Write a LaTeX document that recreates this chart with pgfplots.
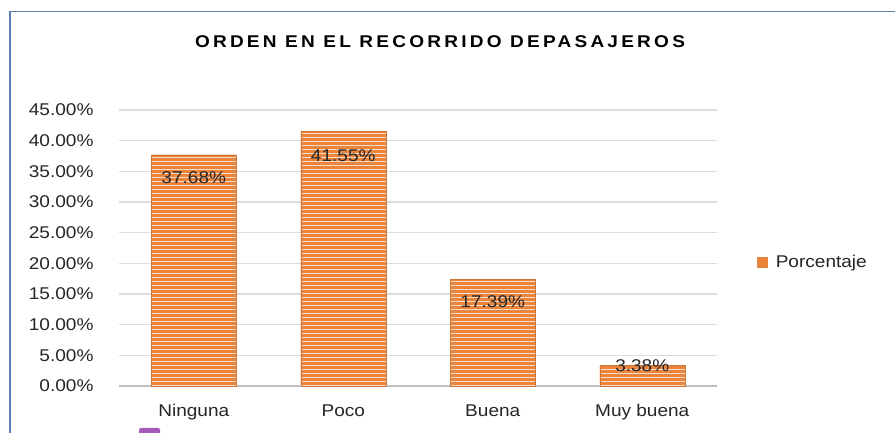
\documentclass[border=0pt]{standalone}
\usepackage{fontspec}
\setmainfont{Liberation Sans}[FakeStretch=1.12]
\usepackage{pgfplots}
\pgfplotsset{compat=1.18}
\usetikzlibrary{patterns}
\pgfdeclarepatternformonly{stripes}{\pgfpoint{-2pt}{0pt}}{\pgfpoint{6pt}{4pt}}{\pgfpoint{4pt}{4pt}}{%
  \pgfpathrectangle{\pgfpoint{-2pt}{0.2pt}}{\pgfpoint{8pt}{2.4pt}}\pgfusepath{fill}}
\definecolor{barorange}{HTML}{E8843C}
\definecolor{barlight}{HTML}{FADCC4}
\definecolor{gridgray}{HTML}{DCDCDC}
\definecolor{basegray}{HTML}{BEBEBE}
\definecolor{framecol}{HTML}{5F7DB0}
\definecolor{purp}{HTML}{A45BB8}
\begin{document}
\begin{tikzpicture}[x=1pt,y=1pt]
\useasboundingbox (0,0) rectangle (895,433);
\fill[white] (0,0) rectangle (895,433);
\draw[framecol, line width=1.5pt] (10,0) -- (10,421.5) -- (895,421.5);
\fill[purp, rounded corners=2pt] (139,-4) rectangle (160,5);
\node[font=\fontsize{17}{20}\selectfont\bfseries\addfontfeatures{LetterSpace=19}] at (440,391) {ORDEN EN EL RECORRIDO DEPASAJEROS};
\begin{axis}[
  scale only axis, width=598pt, height=276pt,
  at={(119pt,47pt)}, anchor=south west,
  font=\fontsize{17}{20}\selectfont,
  /pgf/number format/assume math mode=true,
  xmin=-0.5, xmax=3.5, ymin=0, ymax=45,
  axis line style={draw=none},
  major tick length=0pt,
  ytick={0,5,...,45},
  yticklabel={\pgfmathprintnumber[fixed,fixed zerofill,precision=2]{\tick}\%},
  yticklabel style={xshift=-22pt, text=black!85},
  xtick={0,1,2,3},
  xticklabels={Ninguna,Poco,Buena,Muy buena},
  xticklabel style={yshift=-15pt, text=black!85},
  ymajorgrids,
  grid style={gridgray, line width=1.3pt},
  extra y ticks={0},
  extra y tick labels={},
  extra y tick style={grid style={basegray, line width=2pt}},
  legend style={at={(rel axis cs:1.062,0.449)}, anchor=west, draw=none, fill=none, font=\fontsize{17}{20}\selectfont, text=black!85},
  legend cell align=left,
  clip=false,
]
\addplot[ybar, bar width=85pt, fill=barlight, draw=barorange!90!black, line width=0.5pt,
  postaction={pattern=stripes, pattern color=barorange},
  legend image code/.code={\fill[barorange] (0pt,-5pt) rectangle (10pt,5pt);\path (16pt,0pt);}]
  coordinates {(0,37.68) (1,41.55) (2,17.39) (3,3.38)};
\addlegendentry{Porcentaje}
\addplot[draw=none, mark=none, forget plot, nodes near coords, point meta=explicit symbolic,
  every node near coord/.append style={anchor=center, text=black!85, font=\fontsize{17}{20}\selectfont}]
  coordinates {(0,33.9)[37.68\%] (1,37.6)[41.55\%] (2,13.8)[17.39\%] (3,3.3)[3.38\%]};
\end{axis}
\end{tikzpicture}
\end{document}
